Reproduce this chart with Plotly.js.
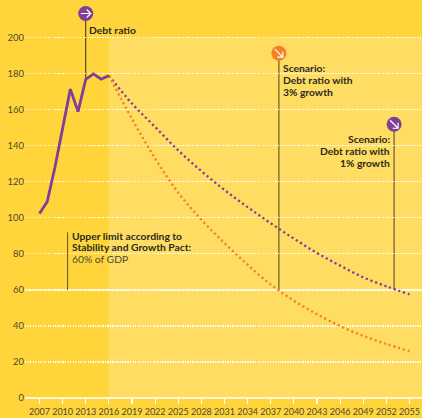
<!DOCTYPE html>
<html><head><meta charset="utf-8">
<script src="https://cdn.plot.ly/plotly-3.0.1.min.js"></script>
<style>html,body{margin:0;padding:0;background:#FFD53B}</style></head>
<body><div id="chart" style="width:422px;height:418px"></div>
<script>
const histYears=[2007,2008,2009,2010,2011,2012,2013,2014,2015,2016];
const histValues=[102.5,109,128,150,171.5,159,177,180,177,179];
const scenYears=[2016,2019,2022,2025,2028,2031,2034,2037,2040,2043,2046,2049,2052,2055];
const purpleValues=[179,163.5,150.5,137.5,126,115.5,106,97,88.5,80.5,73.5,67,62,57.5];
const orangeValues=[179,155,133,114,99,86,74,63,54,46.5,40,34.5,30,26];
const xTicks=[2007,2010,2013,2016,2019,2022,2025,2028,2031,2034,2037,2040,2043,2046,2049,2052,2055];
const yTicks=[0,20,40,60,80,100,120,140,160,180,200];
const limit=60;
const DARK='#FFD53B',LIGHT='#FFDC62',PURPLE='#7F3F98',ORANGE='#F58025',TXT='#2b2a20',WHITE='#FFF6D5';
const F='Lato, "Open Sans", sans-serif';
const ARROW_E='M-5,0 L5,0 M1,4 L5,0 L1,-4';
const ARROW_SE='M-4,4 L4,-4 M4,1.5 L4,-4 L-1.5,-4';
const pins=[
 {x:2013,y:213.5,to:177,c:PURPLE,lc:'#2b2a20',lw:1,icon:ARROW_E},
 {x:2038.05,y:191.5,to:60,c:ORANGE,lc:'#8f7b3c',lw:1.6,icon:ARROW_SE},
 {x:2053,y:152,to:60,c:PURPLE,lc:'#8f7b3c',lw:1.6,icon:ARROW_SE}
];
const traces=[
 {x:scenYears,y:purpleValues,mode:'lines',line:{color:PURPLE,width:2.3,dash:'2.2px,2.8px',shape:'spline'},hoverinfo:'skip'},
 {x:scenYears,y:orangeValues,mode:'lines',line:{color:ORANGE,width:2.3,dash:'2.2px,2.8px',shape:'spline'},hoverinfo:'skip'},
 {x:histYears,y:histValues,mode:'lines',line:{color:PURPLE,width:2.8},hoverinfo:'skip'},
 {x:pins.map(p=>p.x),y:pins.map(p=>p.y),mode:'markers',marker:{size:15,color:pins.map(p=>p.c)},cliponaxis:false,hoverinfo:'skip'}
];
const shapes=[
 {type:'rect',layer:'below',xref:'x',yref:'y',x0:2016,x1:2056.62,y0:0,y1:200,fillcolor:LIGHT,line:{width:0}},
 {type:'line',layer:'below',xref:'x',yref:'y',x0:2005.12,x1:2056.62,y0:limit,y1:limit,line:{color:WHITE,width:1.6}},
 {type:'line',layer:'below',xref:'x',yref:'y',x0:2010.65,x1:2010.65,y0:60,y1:92,line:{color:'#5a4f25',width:1}}
].concat(pins.map(p=>({type:'line',layer:'below',xref:'x',yref:'y',x0:p.x,x1:p.x,y0:p.to,y1:p.y,line:{color:p.lc,width:p.lw}})))
 .concat(pins.map(p=>({type:'path',layer:'above',xref:'x',yref:'y',xsizemode:'pixel',ysizemode:'pixel',xanchor:p.x,yanchor:p.y,path:p.icon,line:{color:'#fff',width:1.2}})));
const note=(x,y,text,anchor)=>({x,y,xref:'x',yref:'y',text,showarrow:false,xanchor:anchor,yanchor:'middle',font:{family:F,size:10.3,color:TXT},borderpad:0});
const annotations=[
 {xref:'x',yref:'y',x:2005.0,y:212.8,xanchor:'right',yanchor:'middle',text:'in %',showarrow:false,font:{family:F,size:8.5,color:'#4d4a30'}},
 note(2013.35,204.4,'<b>Debt ratio</b>','left'),
 note(2038.45,183.3,'<b>Scenario:</b>','left'),
 note(2038.45,176.7,'<b>Debt ratio with</b>','left'),
 note(2038.45,170,'<b>3% growth</b>','left'),
 note(2052.6,143.9,'<b>Scenario:</b>','right'),
 note(2052.6,137,'<b>Debt ratio with</b>','right'),
 note(2052.6,130.4,'<b>1% growth</b>','right'),
 note(2011.1,90.2,'<b>Upper limit according to</b>','left'),
 note(2011.1,83.7,'<b>Stability and Growth Pact:</b>','left'),
 note(2011.1,77,'<span style="color:#4d4a30">60% of GDP</span>','left')
];
Plotly.newPlot('chart',traces,{
 width:422,height:418,showlegend:false,paper_bgcolor:DARK,plot_bgcolor:DARK,
 margin:{l:25,r:0,t:0,b:20},
 xaxis:{range:[2005.12,2056.62],tickvals:xTicks,ticktext:xTicks.map(String),showgrid:false,zeroline:false,showline:false,ticks:'outside',ticklen:5,tickwidth:1.2,tickcolor:'#fff',tickfont:{family:F,size:9,color:'#4d4a30'},tickangle:0},
 yaxis:{range:[0,221],tickvals:yTicks,ticktext:yTicks.map(String),showgrid:true,gridcolor:'#fff',griddash:'1.2px,1.3px',gridwidth:1.1,zeroline:true,zerolinecolor:WHITE,zerolinewidth:1.6,showline:false,ticks:'',tickfont:{family:F,size:9.5,color:'#4d4a30'}},
 shapes,annotations
},{staticPlot:true,displayModeBar:false});
</script></body></html>
